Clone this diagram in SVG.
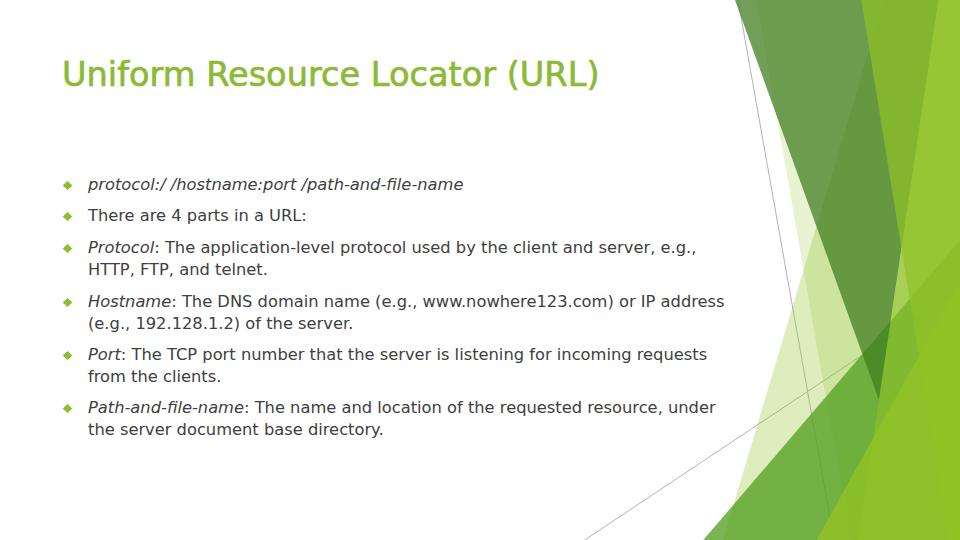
<svg xmlns="http://www.w3.org/2000/svg" width="960" height="540" viewBox="0 0 960 540">
  <defs>
    <style>
      .body { font-family: "DejaVu Sans", "Noto Sans", sans-serif; font-size: 16.3px; fill: #404040; }
      .it { font-style: italic; }
      .title { font-family: "DejaVu Sans", "Noto Sans", sans-serif; font-size: 33.6px; fill: #8CBA38; stroke: #8CBA38; stroke-width: 0.7px; }
      .bul { fill: #8CBD32; }
      .ln { stroke: #B3B3B3; stroke-width: 1; fill: none; }
      .a1 { fill: #90C226; }
    </style>
  </defs>
  <rect x="0" y="0" width="960" height="540" fill="#FFFFFF"/>

  <g id="decoration">
    <line class="ln" x1="738" y1="0" x2="834" y2="540"/>
    <line class="ln" x1="960" y1="290" x2="584.6" y2="540"/>
    <polygon class="a1" fill-opacity="0.3" points="884,0 960,0 960,540 723,540"/>
    <polygon class="a1" fill-opacity="0.2" points="756.2,0 960,0 960,540 850.9,540"/>
    <polygon fill="#54A021" fill-opacity="0.78" points="703.3,540 960,240 960,540"/>
    <polygon fill="#427F21" fill-opacity="0.75" points="735,0 938.5,0 878.9,400"/>
    <polygon class="a1" fill-opacity="0.6" points="938.5,0 960,0 960,540 858.2,540"/>
    <polygon class="a1" fill-opacity="0.7" points="861.3,0 960,0 960,540 948.7,540"/>
    <polygon class="a1" fill-opacity="0.85" points="816.6,540 959.7,282.7 960,540"/>
  </g>

  <g id="title">
    <text class="title" x="62" y="86">Uniform Resource Locator (URL)</text>
  </g>

  <g id="item1">
    <polygon class="bul" points="62.7,185.5 67.5,181 72.3,185.5 67.5,190"/>
    <text class="body it" x="88" y="190">protocol:/<tspan dx="5">/</tspan>hostname:port<tspan dx="5">/</tspan>path-and-file-name</text>
  </g>
  <g id="item2">
    <polygon class="bul" points="62.7,216.5 67.5,212 72.3,216.5 67.5,221"/>
    <text class="body" x="88" y="221">There are 4 parts in a URL:</text>
  </g>
  <g id="item3">
    <polygon class="bul" points="62.7,248.5 67.5,244 72.3,248.5 67.5,253"/>
    <text class="body" x="88" y="253"><tspan class="it">Protocol</tspan>: The application-level protocol used by the client and server, e.g.,</text>
    <text class="body" x="88" y="275">HTTP, FTP, and telnet.</text>
  </g>
  <g id="item4">
    <polygon class="bul" points="62.7,302.5 67.5,298 72.3,302.5 67.5,307"/>
    <text class="body" x="88" y="307"><tspan class="it">Hostname</tspan>: The DNS domain name (e.g., www.nowhere123.com) or IP address</text>
    <text class="body" x="88" y="329">(e.g., 192.128.1.2) of the server.</text>
  </g>
  <g id="item5">
    <polygon class="bul" points="62.7,355.5 67.5,351 72.3,355.5 67.5,360"/>
    <text class="body" x="88" y="360"><tspan class="it">Port</tspan>: The TCP port number that the server is listening for incoming requests</text>
    <text class="body" x="88" y="382">from the clients.</text>
  </g>
  <g id="item6">
    <polygon class="bul" points="62.7,408.5 67.5,404 72.3,408.5 67.5,413"/>
    <text class="body" x="88" y="413"><tspan class="it">Path-and-file-name</tspan>: The name and location of the requested resource, under</text>
    <text class="body" x="88" y="435">the server document base directory.</text>
  </g>
</svg>
